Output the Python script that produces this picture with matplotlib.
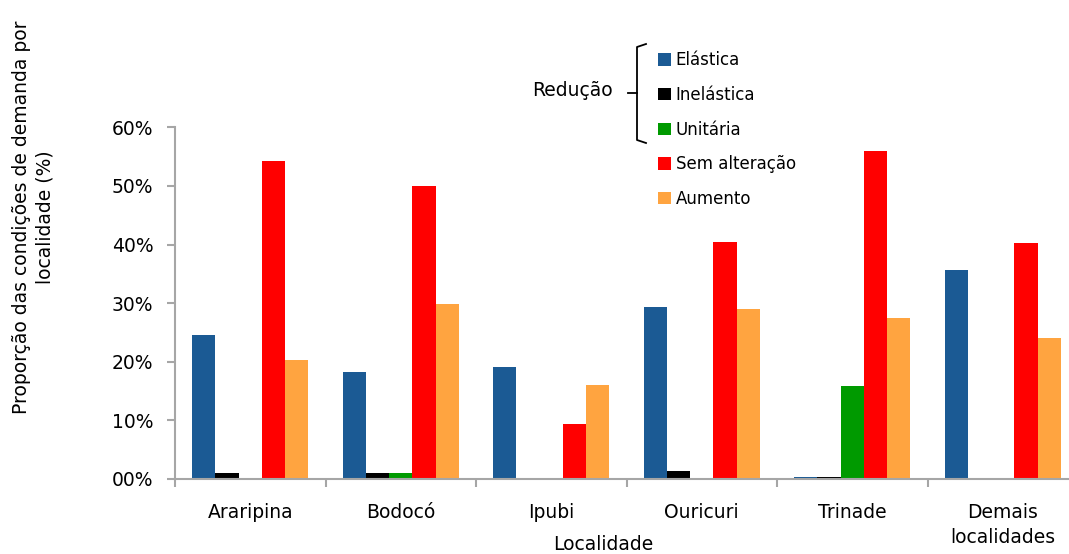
import numpy as np
import matplotlib.pyplot as plt
from matplotlib.lines import Line2D

plt.rcParams['font.family'] = ['DejaVu Sans']

# dados
localidades = ["Araripina", "Bodocó", "Ipubi", "Ouricuri", "Trinade", "Demais\nlocalidades"]
elastica = [24.5, 18.3, 19.1, 29.3, 0.3, 35.6]
inelastica = [1.0, 1.0, 0.0, 1.3, 0.4, 0.0]
unitaria = [0.2, 1.0, 0.0, 0.0, 15.8, 0.0]
sem_alteracao = [54.2, 50.0, 9.3, 40.4, 56.0, 40.2]
aumento = [20.3, 29.8, 16.0, 29.0, 27.5, 24.1]

series = [elastica, inelastica, unitaria, sem_alteracao, aumento]
nomes = ["Elástica", "Inelástica", "Unitária", "Sem alteração", "Aumento"]
cores = ["#1b5a94", "#000000", "#009a00", "#ff0000", "#ffa440"]

W, H = 1069, 554
fig = plt.figure(figsize=(W / 100, H / 100), dpi=100)
ax = fig.add_axes([175 / W, 1 - 479 / H, 903 / W, (479 - 127.3) / H])

x = np.arange(len(localidades)) + 0.5
w = 0.154
barras = []
for j, (vals, cor) in enumerate(zip(series, cores)):
    b = ax.bar(x + (j - 2) * w, vals, width=w, color=cor, label=nomes[j])
    barras.append(b)

ax.set_xlim(0, len(localidades))
ax.set_ylim(0, 60)
ax.set_yticks(range(0, 61, 10))
ax.set_yticklabels(["00%", "10%", "20%", "30%", "40%", "50%", "60%"], fontsize=13.5)

ax.set_xticks(np.arange(len(localidades) + 1))
ax.set_xticklabels([])
ax.set_xticks(x, minor=True)
rotulos = ax.set_xticklabels(localidades, minor=True, fontsize=13.5)
for r in rotulos:
    r.set_linespacing(1.45)
ax.tick_params(axis='x', which='minor', length=0, pad=17)
ax.tick_params(axis='x', which='major', length=5.5, color='#a6a6a6', width=1.5)
ax.tick_params(axis='y', length=5.5, color='#a6a6a6', width=1.5, pad=10)

for s in ['top', 'right']:
    ax.spines[s].set_visible(False)
for s in ['left', 'bottom']:
    ax.spines[s].set_color('#a6a6a6')
    ax.spines[s].set_linewidth(1.5)

fig.text(33 / W, 1 - 217 / H, "Proporção das condições de demanda por\nlocalidade (%)",
         rotation=90, ha='center', va='center', fontsize=13.5, linespacing=1.3)
fig.text(603 / W, 1 - 545 / H, "Localidade", ha='center', va='center', fontsize=13.5)

# legenda
leg = fig.legend(handles=barras, labels=nomes, loc='upper left',
                 bbox_to_anchor=(650 / W, 1 - 43 / H), frameon=False,
                 fontsize=12, handlelength=0.75, handleheight=0.75,
                 handletextpad=0.3, labelspacing=1.0, borderpad=0)

# chave "Redução"
bx = [646, 637, 637, 646]
by = [44, 47, 140, 143]
fig.add_artist(Line2D([v / W for v in bx], [1 - v / H for v in by],
                      color='black', lw=1.3, transform=fig.transFigure))
fig.add_artist(Line2D([628 / W, 637 / W], [1 - 93 / H, 1 - 93 / H],
                      color='black', lw=1.3, transform=fig.transFigure))
fig.text(613 / W, 1 - 91 / H, "Redução", ha='right', va='center', fontsize=13.5)

fig.savefig("out.png", dpi=100)
